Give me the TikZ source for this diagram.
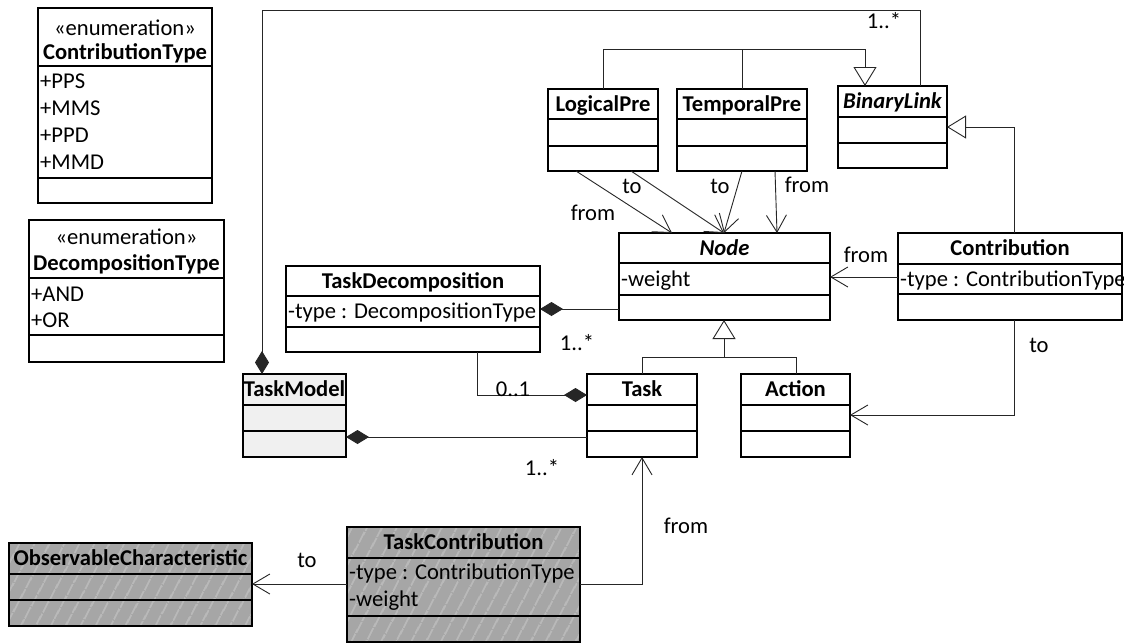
\documentclass[tikz,border=0pt]{standalone}
\usepackage{fontspec}
\setmainfont{Carlito}
\usetikzlibrary{arrows.meta,patterns.meta}

\definecolor{hatchgray}{HTML}{A6A6A6}
\definecolor{hatchline}{HTML}{DDDDDD}
\definecolor{lightbox}{HTML}{F0F0F0}

\newcommand\basefont{\fontsize{22.6pt}{27pt}\selectfont}

\tikzset{
  classframe/.style={draw=black, line width=1.3pt, inner sep=0pt, outer sep=0pt, fill=white},
  lightfill/.style={fill=lightbox},
  hatched/.style={preaction={fill=hatchgray},
    pattern={Lines[angle=62,distance=13pt,line width=0.8pt]}, pattern color=hatchline},
  sepline/.style={line width=1.3pt},
  txt/.style={inner sep=0pt, text height=16pt, text depth=2pt, font=\basefont},
  ttl/.style={txt, font=\basefont\bfseries},
  ttlit/.style={txt, font=\basefont\bfseries\itshape},
  attr/.style={txt, anchor=west},
  conn/.style={draw=black!85, line width=0.9pt},
  barb/.style={conn, -{Straight Barb[length=17pt,width=20pt]}},
  gen/.style={conn, -{Triangle[length=19pt,width=23pt,fill=white]}},
  comp/.style={conn, -{Diamond[length=23pt,width=14pt]}},
  lbl/.style={txt}
}

% class frame: name, x1, y1, x2, y2, extra style
\newcommand\classframe[6]{%
  \node[classframe,#6, minimum width={(#4-#2)*1pt}, minimum height={(#5-#3)*1pt},
        anchor=north west] (#1) at (#2,#3) {};}
% compartment separator: x1, x2, y
\newcommand\compsep[3]{\draw[sepline] (#1,#3) -- (#2,#3);}

\begin{document}
\begin{tikzpicture}[x=1pt, y=-1pt]
\fill[white] (0,0) rectangle (1124,643);
\useasboundingbox (0,0) rectangle (1124,643);

% ---- enumerations ----
\classframe{ct}{38}{8}{212}{203}{}
\compsep{38}{212}{66}\compsep{38}{212}{178}
\node[txt] (ct-s) at (125,28) {«enumeration»};
\node[ttl] (ct-t) at (125,52) {ContributionType};
\node[attr] (ct-a1) at (40,81) {+PPS};
\node[attr] (ct-a2) at (40,108) {+MMS};
\node[attr] (ct-a3) at (40,135) {+PPD};
\node[attr] (ct-a4) at (40,162) {+MMD};

\classframe{dt}{29}{220}{224}{362}{}
\compsep{29}{224}{278}\compsep{29}{224}{335}
\node[txt] (dt-s) at (126.5,237) {«enumeration»};
\node[ttl] (dt-t) at (126.5,263) {DecompositionType};
\node[attr] (dt-a1) at (31,294) {+AND};
\node[attr] (dt-a2) at (31,320) {+OR};

% ---- link classes ----
\classframe{lp}{548}{89}{658}{171}{}
\compsep{548}{658}{119}\compsep{548}{658}{146}
\node[ttl] (lp-t) at (603,104) {LogicalPre};

\classframe{tp}{677}{89}{807}{171}{}
\compsep{677}{807}{119}\compsep{677}{807}{146}
\node[ttl] (tp-t) at (742,104) {TemporalPre};

\classframe{bl}{838}{86}{947}{168}{}
\compsep{838}{947}{117}\compsep{838}{947}{143}
\node[ttlit] (bl-t) at (892.5,101) {BinaryLink};

\classframe{nd}{619}{233}{830}{320}{}
\compsep{619}{830}{263}\compsep{619}{830}{295}
\node[ttlit] (nd-t) at (724.5,248) {Node};
\node[attr] (nd-a) at (621,279) {-weight};

\classframe{co}{898}{233}{1122}{320}{}
\compsep{898}{1122}{264}\compsep{898}{1122}{294}
\node[ttl] (co-t) at (1010,248) {Contribution};
\node[attr] (co-a) at (900,279) {-type : ContributionType};

\classframe{td}{286}{266}{540}{352}{}
\compsep{286}{540}{296}\compsep{286}{540}{327}
\node[ttl] (td-t) at (413,281) {TaskDecomposition};
\node[attr] (td-a) at (288,311) {-type : DecompositionType};

\classframe{tm}{243}{374}{346}{457}{lightfill}
\compsep{243}{346}{405}\compsep{243}{346}{431}
\node[ttl] (tm-t) at (294.5,389) {TaskModel};

\classframe{tk}{587}{374}{697}{457}{}
\compsep{587}{697}{405}\compsep{587}{697}{431}
\node[ttl] (tk-t) at (642,389) {Task};

\classframe{ac}{741}{374}{850}{457}{}
\compsep{741}{850}{405}\compsep{741}{850}{431}
\node[ttl] (ac-t) at (795.5,389) {Action};

\classframe{oc}{9}{543}{252}{626}{hatched}
\compsep{9}{252}{574}\compsep{9}{252}{600}
\node[ttl] (oc-t) at (130.5,558) {ObservableCharacteristic};

\classframe{tc}{347}{527}{580}{642}{hatched}
\compsep{347}{580}{558}\compsep{347}{580}{616}
\node[ttl] (tc-t) at (463.5,542) {TaskContribution};
\node[attr] (tc-a1) at (349,572) {-type : ContributionType};
\node[attr] (tc-a2) at (349,599) {-weight};

% ---- connectors ----
% task model owns the binary links
\draw[conn, {Diamond[length=23pt,width=14pt]}-] (262,0 |- tm.north) -- (262,10) -- (920,10) -- (920,0 |- bl.north);
\node[lbl] (m-bl) at (884,21) {1..*};

% specialisations of BinaryLink
\draw[gen] (603,0 |- lp.north) -- (603,49) -- (865,49) -- (865,0 |- bl.north);
\draw[conn] (742,0 |- tp.north) -- (742,49);

% link ends into Node
\draw[barb] (576,0 |- lp.south) -- (672,0 |- nd.north);
\draw[barb] (631,0 |- lp.south) -- (724,0 |- nd.north);
\draw[barb] (742,0 |- tp.south) -- (724,0 |- nd.north);
\draw[barb] (775,0 |- tp.south) -- (777,0 |- nd.north);
\node[lbl] (l-from1) at (593,213) {from};
\node[lbl] (l-to1) at (632,186) {to};
\node[lbl] (l-to2) at (720,186) {to};
\node[lbl] (l-from2) at (807,185) {from};

% Contribution
\draw[barb] (co.west |- 0,277) -- (nd.east |- 0,277);
\node[lbl] (l-from3) at (866,255) {from};
\draw[gen] (1014,0 |- co.north) -- (1014,127) -- (bl.east |- 0,127);
\draw[barb] (1014,0 |- co.south) -- (1014,415) -- (ac.east |- 0,415);
\node[lbl] (l-to3) at (1039,345) {to};

% decomposition
\draw[comp] (nd.west |- 0,309) -- (td.east |- 0,309);
\node[lbl] (m-td) at (577,343) {1..*};
\draw[comp] (477,0 |- td.south) -- (477,395) -- (tk.west |- 0,395);
\node[lbl] (m-tk) at (513,389) {0..1};

% Task and Action specialise Node
\draw[conn] (642,0 |- tk.north) -- (642,357) -- (796,357) -- (796,0 |- ac.north);
\draw[gen] (724,357) -- (724,0 |- nd.south);

% task model owns tasks
\draw[comp] (tk.west |- 0,437) -- (tm.east |- 0,437);
\node[lbl] (m-tm) at (542,468) {1..*};

% TaskContribution
\draw[barb] (tc.east |- 0,584) -- (642,584) -- (642,0 |- tk.south);
\node[lbl] (l-from4) at (686,526) {from};
\draw[barb] (tc.west |- 0,584) -- (oc.east |- 0,584);
\node[lbl] (l-to4) at (307,560) {to};
\end{tikzpicture}
\end{document}
